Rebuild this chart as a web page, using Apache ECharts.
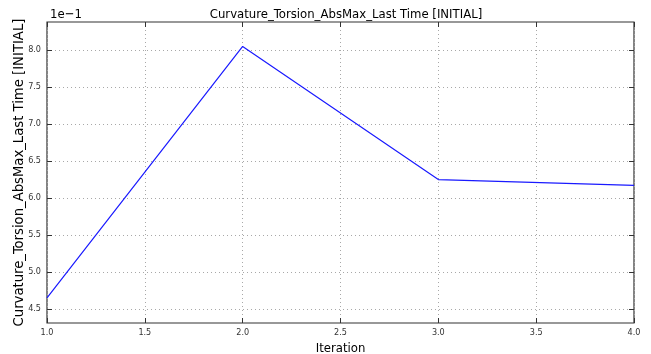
<!DOCTYPE html>
<html>
<head>
<meta charset="utf-8">
<script src="https://cdn.jsdelivr.net/npm/echarts@6/dist/echarts.min.js"></script>
<style>
  html, body { margin: 0; padding: 0; background: #fff; }
  #chart { width: 651px; height: 354px; }
</style>
</head>
<body>
<div id="chart"></div>
<script>
// Iterations and the metric value at each one (in units of 1e-1)
const iterations = [1, 2, 3, 4];
const curvatureValues = [4.65, 8.05, 6.25, 6.17];
const yTickValues = [4.5, 5.0, 5.5, 6.0, 6.5, 7.0, 7.5, 8.0];

const chartTitle = 'Curvature_Torsion_AbsMax_Last Time [INITIAL]';
const xName = 'Iteration';
const yName = 'Curvature_Torsion_AbsMax_Last Time [INITIAL]';
const scaleNote = '1e\u22121';

const FONT = '"DejaVu Sans Condensed", "DejaVu Sans", sans-serif';
const chart = echarts.init(document.getElementById('chart'), null, { renderer: 'canvas' });

const gridLine = { show: true, lineStyle: { color: '#a8a8a8', type: [1, 3], width: 1 } };

const option = {
  animation: false,
  backgroundColor: '#ffffff',
  title: [
    {
      text: chartTitle, left: 341, top: 3, textAlign: 'center',
      textStyle: { fontFamily: FONT, fontSize: 13, fontWeight: 'normal', color: '#000' }
    },
    {
      text: scaleNote, left: 45, top: 3,
      textStyle: { fontFamily: FONT, fontSize: 13, fontWeight: 'normal', color: '#000' }
    }
  ],
  grid: {
    left: 47, right: 17, top: 22, bottom: 31,
    outerBoundsMode: 'none', containLabel: false,
    show: true, borderColor: '#333', borderWidth: 1.2, backgroundColor: 'transparent'
  },
  xAxis: [
    {
      type: 'value', min: 1, max: 4, interval: 0.5,
      name: xName, nameLocation: 'middle', nameGap: 17,
      nameTextStyle: { fontFamily: FONT, fontSize: 13, color: '#000' },
      axisLine: { show: false },
      axisTick: { show: true, inside: true, length: 5, lineStyle: { color: '#333' } },
      axisLabel: { fontFamily: FONT, fontSize: 9, color: '#333', margin: 5,
        formatter: v => v.toFixed(1) },
      splitLine: gridLine
    },
    {
      type: 'value', min: 1, max: 4, interval: 0.5, position: 'top',
      axisLine: { show: false },
      axisTick: { show: true, inside: true, length: 5, lineStyle: { color: '#333' } },
      axisLabel: { show: false },
      splitLine: { show: false }
    }
  ],
  yAxis: [
    {
      type: 'value', min: 4.31, max: 8.38,
      name: yName, nameLocation: 'middle', nameGap: 20, nameRotate: 90,
      nameMoveOverlap: false,
      nameTextStyle: { fontFamily: FONT, fontSize: 14.7, color: '#000' },
      axisLine: { show: false },
      axisTick: { show: true, inside: true, length: 5, customValues: yTickValues, lineStyle: { color: '#333' } },
      axisLabel: { fontFamily: FONT, fontSize: 9, color: '#333', margin: 6,
        customValues: yTickValues, formatter: v => v.toFixed(1) },
      splitLine: gridLine
    },
    {
      type: 'value', min: 4.31, max: 8.38, position: 'right',
      axisLine: { show: false },
      axisTick: { show: true, inside: true, length: 5, customValues: yTickValues, lineStyle: { color: '#333' } },
      axisLabel: { show: false },
      splitLine: { show: false }
    }
  ],
  series: [
    {
      type: 'line',
      data: iterations.map((x, i) => [x, curvatureValues[i]]),
      showSymbol: false,
      lineStyle: { color: '#1a1aff', width: 1.2 },
      itemStyle: { color: '#1a1aff' }
    }
  ]
};

chart.setOption(option);
</script>
</body>
</html>
